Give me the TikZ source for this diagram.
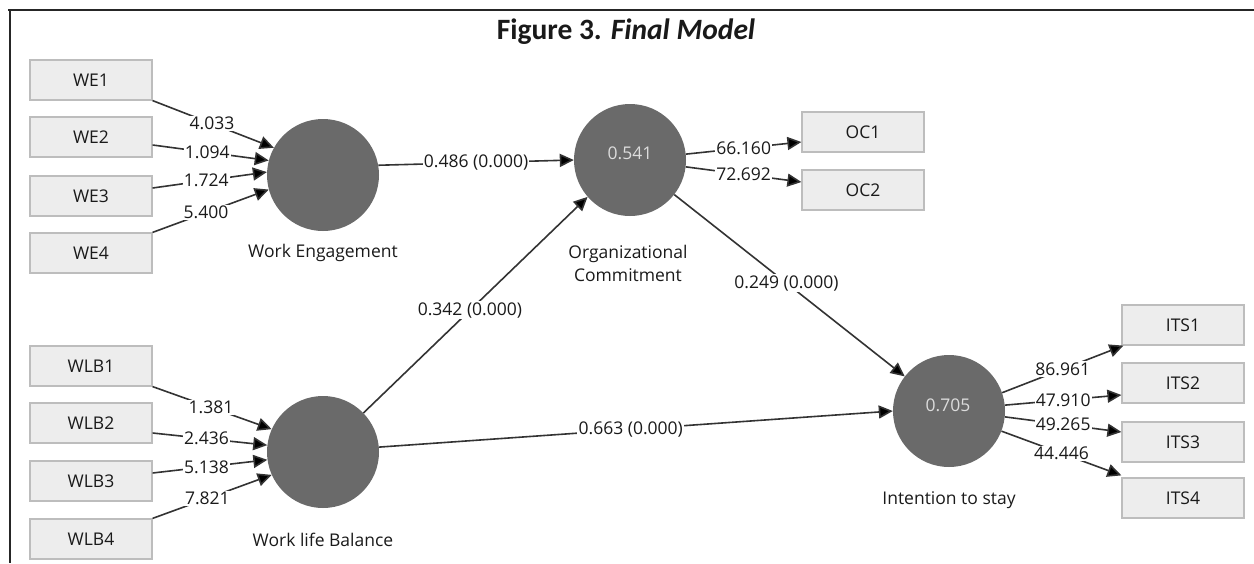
\documentclass[tikz,border=0pt]{standalone}
\usepackage{fontspec}
\setmainfont{Open Sans}
\newfontfamily\titlefont{Carlito}
\usetikzlibrary{arrows.meta}
\definecolor{boxline}{HTML}{BDBDBD}
\definecolor{boxfill}{HTML}{EDEDED}
\definecolor{latfill}{HTML}{6A6A6A}
\definecolor{txt}{HTML}{1A1A1A}
\definecolor{linec}{HTML}{333333}
\definecolor{rtxt}{HTML}{DCDCDC}
\begin{document}
\begin{tikzpicture}[x=1pt,y=-1pt,
  ind/.style={draw=boxline, fill=boxfill, line width=1.2pt, minimum width=122pt, minimum height=40pt, inner sep=0pt, font=\fontsize{17.5}{20}\selectfont, text=txt},
  lat/.style={circle, fill=latfill, minimum size=112pt, inner sep=0pt},
  rsq/.style={font=\fontsize{17.5}{20}\selectfont, text=rtxt},
  latname/.style={font=\fontsize{17.5}{23}\selectfont, text=txt, align=center},
  lbl/.style={fill=white, inner sep=1.2pt, font=\fontsize{17.5}{20}\selectfont, text=txt},
  conn/.style={draw=linec, line width=1.6pt, -{Triangle[length=14pt,width=13pt,fill=black]}},
  frame/.style={draw=black!85, line width=2.5pt}
]
\useasboundingbox (0,0) rectangle (1254,563);
\fill[white] (0,0) rectangle (1254,563);
\draw[frame] (8,10) -- (1254,10);
\draw[frame] (10,10) -- (10,563);
\node[font=\titlefont\bfseries\fontsize{29.5}{34}\selectfont, text=black!90] (title) at (626,32) {Figure 3. \textit{Final Model}};

% indicator boxes
\node[ind] (WE1) at (91,80) {WE1};
\node[ind] (WE2) at (91,137) {WE2};
\node[ind] (WE3) at (91,196) {WE3};
\node[ind] (WE4) at (91,253) {WE4};
\node[ind] (WLB1) at (91,366) {WLB1};
\node[ind] (WLB2) at (91,423) {WLB2};
\node[ind] (WLB3) at (91,481) {WLB3};
\node[ind] (WLB4) at (91,539) {WLB4};
\node[ind] (OC1) at (863,132) {OC1};
\node[ind] (OC2) at (863,190) {OC2};
\node[ind] (ITS1) at (1183,325) {ITS1};
\node[ind] (ITS2) at (1183,383) {ITS2};
\node[ind] (ITS3) at (1183,442) {ITS3};
\node[ind] (ITS4) at (1183,498) {ITS4};

% latent variables
\node[lat] (WE) at (323,175) {};
\node[lat] (OC) at (630,160) {};
\node[lat] (WLB) at (323,452) {};
\node[lat] (ITS) at (949,411) {};
\node[rsq] (OCr) at (630,153) {0.541};
\node[rsq] (ITSr) at (948,405) {0.705};
\node[latname] (WEn) at (323,253) {Work Engagement};
\node[latname] (OCn) at (628,263) {Organizational\\Commitment};
\node[latname] (WLBn) at (323,540) {Work life Balance};
\node[latname] (ITSn) at (949,500) {Intention to stay};

% WE loadings
\draw[conn] (WE1.south east) -- node[lbl,pos=0.49]{4.033} (WE.151);
\draw[conn] ([yshift=-8pt]WE2.east) -- node[lbl,pos=0.47]{1.094} (WE.165);
\draw[conn] ([yshift=8pt]WE3.east) -- node[lbl,pos=0.47]{1.724} (WE.177);
\draw[conn] (WE4.north east) -- node[lbl,pos=0.46]{5.400} (WE.195);

% WLB loadings
\draw[conn] (WLB1.south east) -- node[lbl,pos=0.49]{1.381} (WLB.156);
\draw[conn] ([yshift=-10pt]WLB2.east) -- node[lbl,pos=0.47]{2.436} (WLB.173);
\draw[conn] ([yshift=8pt]WLB3.east) -- node[lbl,pos=0.47]{5.138} (WLB.188);
\draw[conn] (WLB4.north east) -- node[lbl,pos=0.46]{7.821} (WLB.204);

% OC loadings
\draw[conn] (OC.6) -- node[lbl,pos=0.5]{66.160} ([yshift=-10pt]OC1.west);
\draw[conn] (OC.-7) -- node[lbl,pos=0.5]{72.692} ([yshift=8pt]OC2.west);

% ITS loadings
\draw[conn] (ITS.19) -- node[lbl,pos=0.5]{86.961} ([xshift=2pt]ITS1.south west);
\draw[conn] (ITS.6) -- node[lbl,pos=0.5]{47.910} ([yshift=-12pt]ITS2.west);
\draw[conn] (ITS.-6) -- node[lbl,pos=0.5]{49.265} ([yshift=10pt]ITS3.west);
\draw[conn] (ITS.-21) -- node[lbl,pos=0.5]{44.446} ([yshift=2pt]ITS4.north west);

% structural paths
\draw[conn] (WE.10) -- node[lbl,pos=0.5]{0.486 (0.000)} (OC.180);
\draw[conn] (WLB.44) -- node[lbl,pos=0.475]{0.342 (0.000)} (OC.221);
\draw[conn] (WLB.5) -- node[lbl,pos=0.49]{0.663 (0.000)} (ITS.180);
\draw[conn] (OC.-38) -- node[lbl,pos=0.487]{0.249 (0.000)} (ITS.142);
\end{tikzpicture}
\end{document}
